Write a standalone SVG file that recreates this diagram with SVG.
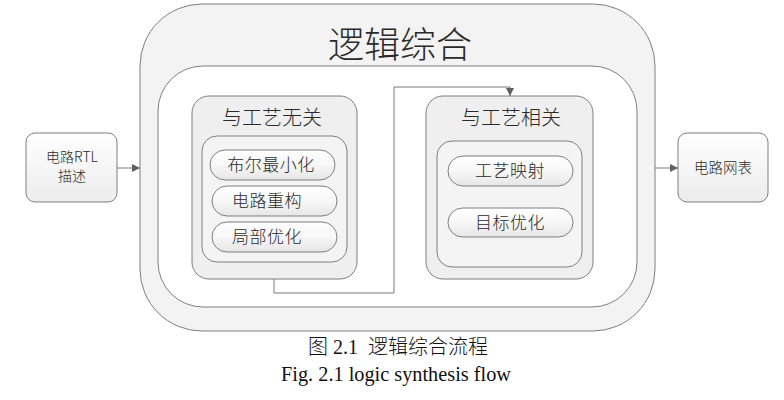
<svg xmlns="http://www.w3.org/2000/svg" width="784" height="400" viewBox="0 0 784 400">
<defs>
  <linearGradient id="pill" x1="0" y1="0" x2="0" y2="1">
    <stop offset="0" stop-color="#ffffff"/>
    <stop offset="0.5" stop-color="#f7f7f7"/>
    <stop offset="1" stop-color="#e6e6e6"/>
  </linearGradient>
  <linearGradient id="side" x1="0" y1="0" x2="0" y2="1">
    <stop offset="0" stop-color="#ffffff"/>
    <stop offset="1" stop-color="#ececec"/>
  </linearGradient>
  <marker id="arr" viewBox="0 0 10 10" refX="10" refY="5" markerWidth="8" markerHeight="8" markerUnits="userSpaceOnUse" orient="auto">
    <path d="M0,0 L10,5 L0,10 z" fill="#606060"/>
  </marker>
  <style>
    .box{stroke:#7f7f7f;stroke-width:1}
    .cjk{font-family:"Noto Sans CJK SC","Noto Sans",sans-serif;font-weight:300;fill:#2a2a2a;text-anchor:middle}
    .cap{font-family:"Liberation Serif","Noto Sans CJK SC",serif;fill:#111;text-anchor:middle}
    .conn{fill:none;stroke:#7a7a7a;stroke-width:1}
  </style>
</defs>
<g id="outer">
  <rect class="box" x="140" y="4" width="515" height="327" rx="62" ry="62" fill="#f3f3f3"/>
  <text class="cjk" x="400" y="58" font-size="36" font-weight="200">逻辑综合</text>
</g>
<g id="inner">
  <rect class="box" x="158" y="66" width="479" height="241" rx="45" ry="45" fill="#ffffff"/>
</g>
<g id="rtl">
  <rect class="box" x="26" y="133" width="91" height="69" rx="9" ry="9" fill="url(#side)"/>
  <text class="cjk" x="72" y="162" font-size="14">电路RTL</text>
  <text class="cjk" x="72" y="181" font-size="14">描述</text>
</g>
<g id="netlist">
  <rect class="box" x="678" y="133" width="90" height="69" rx="9" ry="9" fill="url(#side)"/>
  <text class="cjk" x="723" y="173" font-size="14.5">电路网表</text>
</g>
<g id="independent">
  <rect class="box" x="192" y="96" width="165" height="183" rx="17" ry="17" fill="#efefef"/>
  <text class="cjk" x="272" y="125" font-size="20">与工艺无关</text>
  <rect class="box" x="202" y="136" width="145" height="126" rx="15" ry="15" fill="#f4f4f4"/>
</g>
<g id="bool">
  <rect class="box" x="210" y="150" width="125" height="30" rx="15" ry="15" fill="url(#pill)"/>
  <text class="cjk" x="271" y="171" font-size="17" letter-spacing="0.5">布尔最小化</text>
</g>
<g id="restructure">
  <rect class="box" x="212" y="186" width="125" height="30" rx="15" ry="15" fill="url(#pill)"/>
  <text class="cjk" x="267" y="207" font-size="17" letter-spacing="0.5">电路重构</text>
</g>
<g id="local">
  <rect class="box" x="212" y="222" width="125" height="30" rx="15" ry="15" fill="url(#pill)"/>
  <text class="cjk" x="267" y="243" font-size="17" letter-spacing="0.5">局部优化</text>
</g>
<g id="dependent">
  <rect class="box" x="426" y="96" width="167" height="183" rx="17" ry="17" fill="#efefef"/>
  <text class="cjk" x="511" y="125" font-size="20">与工艺相关</text>
  <rect class="box" x="437" y="141" width="145" height="126" rx="15" ry="15" fill="#f4f4f4"/>
</g>
<g id="mapping">
  <rect class="box" x="448" y="156" width="125" height="30" rx="15" ry="15" fill="url(#pill)"/>
  <text class="cjk" x="510" y="177" font-size="17" letter-spacing="0.5">工艺映射</text>
</g>
<g id="target">
  <rect class="box" x="448" y="208" width="125" height="29" rx="14.5" ry="14.5" fill="url(#pill)"/>
  <text class="cjk" x="510" y="229" font-size="17" letter-spacing="0.5">目标优化</text>
</g>
<g id="connectors">
  <path class="conn" d="M117,168 H140" marker-end="url(#arr)"/>
  <path class="conn" d="M655,168 H678" marker-end="url(#arr)"/>
  <path class="conn" d="M274,279 V293 H394 V87 H510 V96" marker-end="url(#arr)"/>
</g>
<g id="caption">
  <text class="cap" x="398" y="354" font-size="20" font-weight="300" xml:space="preserve" style="white-space:pre">图 2.1  逻辑综合流程</text>
  <text class="cap" x="396" y="381" font-size="20.3">Fig. 2.1 logic synthesis flow</text>
</g>
</svg>
